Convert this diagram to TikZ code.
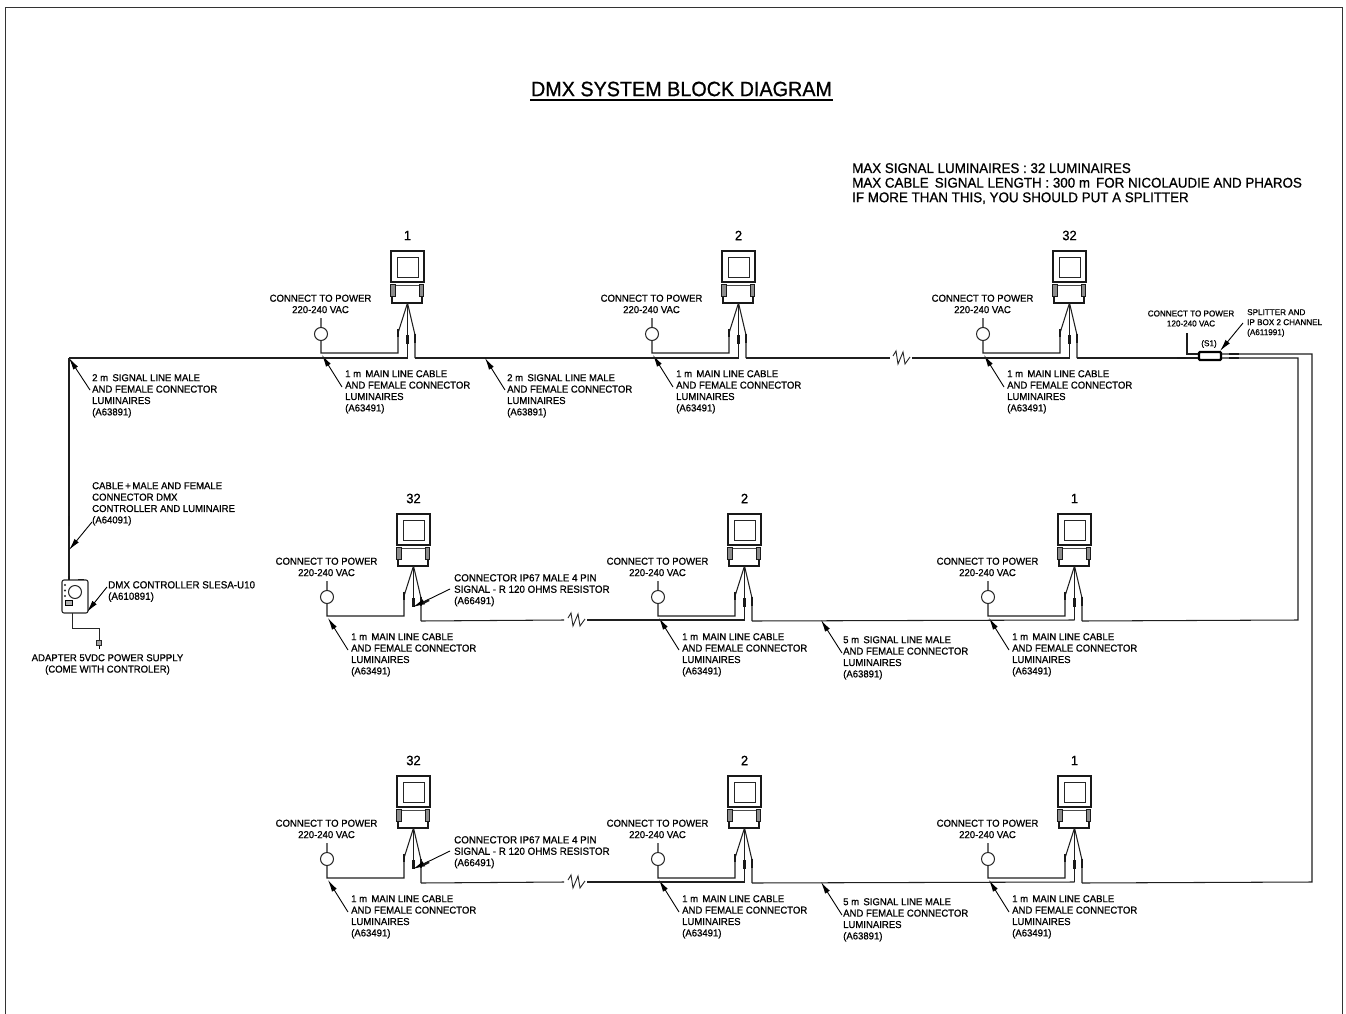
\documentclass[tikz,border=0pt]{standalone}
\usepackage{fontspec}
\setmainfont[FakeStretch=0.955,FakeBold=0.8]{Liberation Sans}
\usetikzlibrary{arrows.meta,calc}
\tikzset{
  wire/.style={line width=1.05pt,draw=black!88,line join=miter},
  plugtick/.style={line width=2.2pt,draw=black!90},
  callout/.style={line width=0.9pt,draw=black,-{Latex[length=12pt,width=5.6pt]}},
  note/.style={anchor=north west,inner sep=0pt,align=left,font=\fontsize{10}{11.4}\selectfont},
  notew/.style={anchor=north west,inner sep=0pt,align=left,font=\fontsize{10.25}{11.4}\selectfont},
  notec/.style={anchor=north,inner sep=0pt,align=center,font=\fontsize{10}{11.4}\selectfont},
  small/.style={inner sep=0pt,font=\fontsize{8.5}{10}\selectfont},
  housing/.style={draw=black!90,line width=2.2pt,minimum width=33pt,minimum height=31pt,inner sep=0pt,anchor=north west},
  lens/.style={draw=black!85,line width=0.9pt,minimum width=21pt,minimum height=20pt,inner sep=0pt},
  pwr/.style={circle,draw=black!85,line width=1pt,fill=white,minimum size=13pt,inner sep=0pt},
  numlabel/.style={inner sep=0pt,font=\fontsize{13.5}{14}\selectfont}
}
% name, x, y of housing corner, number, end of middle lead
\newcommand{\lumi}[5]{%
\begin{scope}[shift={(#2,#3)}]
  \node[numlabel] (#1num) at (17.5,-14.5) {#4};
  \node[housing] (#1box) at (0,0) {};
  \node[lens] (#1lens) at (17.5,17) {};
  \draw[line width=1.5pt,draw=black!90] (2,46) -- (2,53) -- (32,53) -- (32,46);
  \draw[line width=0.7pt,draw=black!70] (5,35) -- (29.5,35);
  \draw[line width=1pt,draw=black!90,fill=black!45] (0.7,34.5) rectangle (5,46.5) (29.5,34.5) rectangle (33.8,46.5);
  \coordinate (#1apex) at (17.5,53);
  \coordinate (#1L) at (8,83);
  \coordinate (#1Lj) at (8,103);
  \coordinate (#1M) at (17.5,#5);
  \coordinate (#1Mm) at (17.5,108);
  \coordinate (#1Rb) at (25,85);
  \coordinate (#1R) at (25,108);
  \coordinate (#1J) at (-68,105);
  \coordinate (#1tail) at (-48,137);
  \node[pwr] (#1pwr) at (-69,84) {};
  \coordinate (#1stub) at (-69,68);
  \coordinate (#1pj) at (-69,103);
  \node[notec] (#1conn) at (-69.5,44.5) {CONNECT TO POWER\\220-240 VAC};
  \node[note] (#1txt) at (-45,120) {1 m\, MAIN LINE CABLE\\AND FEMALE CONNECTOR\\LUMINAIRES\\(A63491)};
\end{scope}
\draw[wire] (#1stub) -- (#1pwr) (#1pwr) -- (#1pj) -- (#1Lj) -- (#1L) -- (#1apex);
\draw[wire] (#1apex) -- (#1M);
\draw[wire] (#1apex) -- (#1Rb) -- (#1R);
\draw[plugtick] ($(#1L)+(0,-4)$) -- ($(#1L)+(0,4)$);
\draw[plugtick] ($(#1Mm)+(0,-23)$) -- ($(#1Mm)+(0,-14)$);
\draw[plugtick] ($(#1Rb)+(0,-1)$) -- ($(#1Rb)+(0,8)$);
\draw[callout] (#1tail) -- (#1J);
}
% name, start x, main y
\newcommand{\zigbreak}[3]{%
\draw[line width=0.9pt,draw=black!85] (#2,#3-2) coordinate (#1a) -- ++(3,-5) -- ++(2,13) -- ++(5,-12) -- ++(2,12) -- ++(5,-7) coordinate (#1b);
}
\begin{document}
\begin{tikzpicture}[x=1pt,y=-1pt]
\useasboundingbox (0,0) rectangle (1346,1014);
% frame
\draw[line width=1.1pt,draw=black!80] (5.5,1014) -- (5.5,7.5) -- (1342.5,7.5) -- (1342.5,1014);
% title
\node[inner sep=0pt,font=\fontsize{20.7}{22}\selectfont] (title) at (681.5,89) {DMX SYSTEM BLOCK DIAGRAM};
\coordinate (tl) at (530,100); \coordinate (tr) at (833,100);
\draw[line width=1.2pt] (tl) -- (tr);
\node[anchor=north west,inner sep=0pt,align=left,font=\fontsize{14}{14.6}\selectfont] (limits) at (852,163)
 {MAX SIGNAL LUMINAIRES : 32 LUMINAIRES\\MAX CABLE\, SIGNAL LENGTH : 300 m\, FOR NICOLAUDIE AND PHAROS\\IF MORE THAN THIS, YOU SHOULD PUT A SPLITTER};
% row 1
\lumi{a}{390}{250}{1}{108}
\lumi{b}{721}{250}{2}{108}
\lumi{c}{1052}{250}{32}{108}
% row 2
\lumi{d}{396}{513}{32}{93}
\lumi{e}{727}{513}{2}{107}
\lumi{f}{1057}{513}{1}{107}
% row 3
\lumi{g}{396}{775}{32}{93}
\lumi{h}{727}{775}{2}{107}
\lumi{i}{1057}{775}{1}{107}
% breaks
\zigbreak{za}{893}{358}
\zigbreak{zd}{568}{620}
\zigbreak{zg}{568}{882}
% row 1 main line
\coordinate (rtop) at (69,358);
\draw[wire] (rtop) -- (aM);
\draw[wire] (aR) -- (bM);
\draw[wire] (bR) -- (890,358);
\draw[wire] (912,358) -- (cM);
% splitter
\node[draw=black,line width=2.2pt,minimum width=22pt,minimum height=8pt,inner sep=0pt,rounded corners=1pt,fill=white] (split) at (1210,356) {};
\node[small] (s1) at (1209,344) {(S1)};
\draw[wire] (cR) -- (split.west |- cR);
\draw[plugtick,line width=1.6pt] (1177,358) -- (1186,358);
\coordinate (spw) at (1187,333);
\draw[wire] (split.west |- 0,354) -- (1187,354) -- (spw);
\draw[plugtick,line width=1.6pt] (1187,333) -- (1187,340);
\node[small,align=center] (sptxt) at (1191,318.5) {CONNECT TO POWER\\120-240 VAC};
\node[small,align=left,anchor=north west] (spl) at (1247,309) {SPLITTER AND\\IP BOX 2 CHANNEL\\(A611991)};
\coordinate (spt) at (1243,323);
\draw[callout] (spt) -- (1220,351);
% splitter outputs
\draw[wire] (split.east |- 0,354) -- (1312,354) -- (1312,882) -- (iR);
\draw[wire] (split.east |- 0,358) -- (1298,358) -- (1298,620) -- (fR);
\draw[plugtick,line width=1.6pt] (1229,354) -- (1239,354);
\draw[plugtick,line width=1.6pt] (1229,358) -- (1239,358);
% row 2 main
\draw[wire] (fM) -- (eR);
\draw[wire] (eM) -- (587,620);
\draw[wire] (564,620) -- (dR);
% row 3 main
\draw[wire] (iM) -- (hR);
\draw[wire] (hM) -- (587,882);
\draw[wire] (564,882) -- (gR);
% row-1 signal notes
\node[note] (sig1) at (92,374) {2 m\, SIGNAL LINE MALE\\AND FEMALE CONNECTOR\\LUMINAIRES\\(A63891)};
\coordinate (sig1t) at (90,390);
\draw[callout] (sig1t) -- (rtop);
\node[note] (sig2) at (507,374) {2 m\, SIGNAL LINE MALE\\AND FEMALE CONNECTOR\\LUMINAIRES\\(A63891)};
\coordinate (sig2t) at (505,390); \coordinate (sig2j) at (485,358);
\draw[callout] (sig2t) -- (sig2j);
% row 2 and 3 signal notes
\node[note] (sig3) at (843,636) {5 m\, SIGNAL LINE MALE\\AND FEMALE CONNECTOR\\LUMINAIRES\\(A63891)};
\coordinate (sig3t) at (842,653); \coordinate (sig3j) at (821,620);
\draw[callout] (sig3t) -- (sig3j);
\node[note] (sig4) at (843,898) {5 m\, SIGNAL LINE MALE\\AND FEMALE CONNECTOR\\LUMINAIRES\\(A63891)};
\coordinate (sig4t) at (842,915); \coordinate (sig4j) at (821,882);
\draw[callout] (sig4t) -- (sig4j);
% resistors
\node[notew] (res1) at (454,574) {CONNECTOR IP67 MALE 4 PIN\\SIGNAL - R 120 OHMS RESISTOR\\(A66491)};
\coordinate (res1t) at (450,589); \coordinate (res1j) at (413,607);
\draw[callout] (res1t) -- (res1j);
\draw[plugtick,line width=2.4pt] (423,603) -- (429,600);
\node[notew] (res2) at (454,836) {CONNECTOR IP67 MALE 4 PIN\\SIGNAL - R 120 OHMS RESISTOR\\(A66491)};
\coordinate (res2t) at (450,851); \coordinate (res2j) at (413,869);
\draw[callout] (res2t) -- (res2j);
\draw[plugtick,line width=2.4pt] (423,865) -- (429,862);
% controller
\node[draw=black!85,line width=1.1pt,rounded corners=2pt,minimum width=26pt,minimum height=33pt,inner sep=0pt] (ctrl) at (75,596.5) {};
\node[circle,draw=black!85,line width=1pt,minimum size=13pt,inner sep=0pt] (knob) at (75,592) {};
\fill[black!85] (65,585) circle (1.2) (65,590.5) circle (1.2) (65,596) circle (1.2);
\draw[line width=0.9pt,fill=black!30] (65,600) rectangle (72,605);
\coordinate (ctop) at (69,579);
\draw[wire] (rtop) -- (ctop);
\draw[plugtick] (69,516) -- (69,526);
\draw[plugtick] (69,576) -- (69,580);
\draw[plugtick,line width=1.2pt] (78,579.5) -- (84,579.5);
\node[note] (cab) at (92,482) {CABLE\,+\,MALE AND FEMALE\\CONNECTOR DMX\\CONTROLLER AND LUMINAIRE\\(A64091)};
\coordinate (cabt) at (92,522); \coordinate (cabj) at (69,550);
\draw[callout] (cabt) -- (cabj);
\node[notew] (dmx) at (108,581) {DMX CONTROLLER SLESA-U10\\(A610891)};
\coordinate (dmxt) at (107,587); \coordinate (dmxj) at (87,612);
\draw[callout] (dmxt) -- (dmxj);
\coordinate (plugtop) at (99,640);
\draw[line width=0.8pt,draw=black!85] (72,613) -- (72,628) -- (99,628) -- (plugtop);
\node[draw=black!85,line width=0.9pt,fill=black!35,minimum width=4.5pt,minimum height=5pt,inner sep=0pt,anchor=north] (plug) at (99,640) {};
\draw[line width=0.8pt] (plug.south) -- ++(0,3);
\node[notec] (adp) at (107.5,654) {ADAPTER 5VDC POWER SUPPLY\\(COME WITH CONTROLER)};
\end{tikzpicture}
\end{document}
